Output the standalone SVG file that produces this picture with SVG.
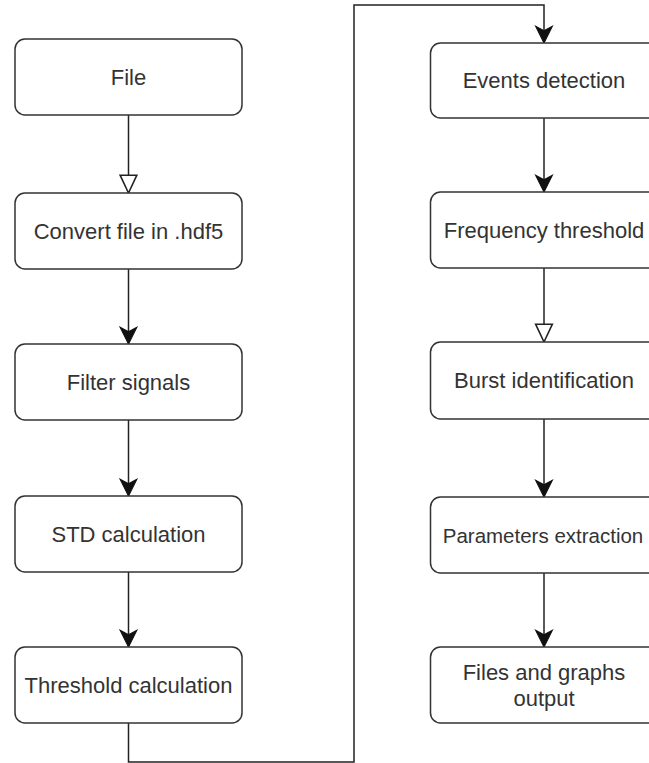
<svg xmlns="http://www.w3.org/2000/svg" width="649" height="763" viewBox="0 0 649 763">
<style>
.box{fill:#fff;stroke:#333;stroke-width:1.5}
.lbl{font-family:"Liberation Sans",Arial,sans-serif;font-size:22px;fill:#333;text-anchor:middle}
.edge{fill:none;stroke:#222;stroke-width:1.5}
</style>
<defs>
<marker id="classic" markerUnits="userSpaceOnUse" markerWidth="20" markerHeight="20" viewBox="-1 -9 18 18" refX="15" refY="0" orient="auto">
<path d="M0,-7.5 L15,0 L0,7.5 L4,0 Z" fill="#111" stroke="#111" stroke-width="1"/>
</marker>
<marker id="block" markerUnits="userSpaceOnUse" markerWidth="22" markerHeight="22" viewBox="-2 -10 21 20" refX="17" refY="0" orient="auto">
<path d="M0,-8 L17,0 L0,8 Z" fill="#fff" stroke="#222" stroke-width="1.5"/>
</marker>
</defs>
<rect width="649" height="763" fill="#fff"/>
<g id="connectors">
<path class="edge" d="M128.5,115 V193" marker-end="url(#block)"/>
<path class="edge" d="M128.5,269 V344" marker-end="url(#classic)"/>
<path class="edge" d="M128.5,420 V496" marker-end="url(#classic)"/>
<path class="edge" d="M128.5,572 V647" marker-end="url(#classic)"/>
<path class="edge" d="M128.5,723 V762 H354 V5 H544 V43" marker-end="url(#classic)"/>
<path class="edge" d="M544,118 V192" marker-end="url(#classic)"/>
<path class="edge" d="M544,268 V342" marker-end="url(#block)"/>
<path class="edge" d="M544,419 V497" marker-end="url(#classic)"/>
<path class="edge" d="M544,573 V647" marker-end="url(#classic)"/>
</g>
<g id="file"><rect class="box" x="15" y="39" width="227" height="76" rx="10"/><text class="lbl" x="128.5" y="85">File</text></g>
<g id="convert"><rect class="box" x="15" y="193" width="227" height="76" rx="10"/><text class="lbl" x="128.5" y="239">Convert file in .hdf5</text></g>
<g id="filter"><rect class="box" x="15" y="344" width="227" height="76" rx="10"/><text class="lbl" x="128.5" y="390">Filter signals</text></g>
<g id="std"><rect class="box" x="15" y="496" width="227" height="76" rx="10"/><text class="lbl" x="128.5" y="542">STD calculation</text></g>
<g id="threshold"><rect class="box" x="15" y="647" width="227" height="76" rx="10"/><text class="lbl" x="128.5" y="693">Threshold calculation</text></g>
<g id="events"><rect class="box" x="430.5" y="43" width="227" height="75" rx="10"/><text class="lbl" x="544" y="88">Events detection</text></g>
<g id="frequency"><rect class="box" x="430.5" y="192" width="227" height="76" rx="10"/><text class="lbl" x="544" y="238">Frequency threshold</text></g>
<g id="burst"><rect class="box" x="430.5" y="342" width="227" height="77" rx="10"/><text class="lbl" x="544" y="388">Burst identification</text></g>
<g id="parameters"><rect class="box" x="430.5" y="497" width="227" height="76" rx="10"/><text class="lbl" x="543" y="543" style="font-size:20.5px">Parameters extraction</text></g>
<g id="files"><rect class="box" x="430.5" y="647" width="227" height="76" rx="10"/><text class="lbl" x="544" y="680">Files and graphs</text><text class="lbl" x="544" y="706">output</text></g>
</svg>
